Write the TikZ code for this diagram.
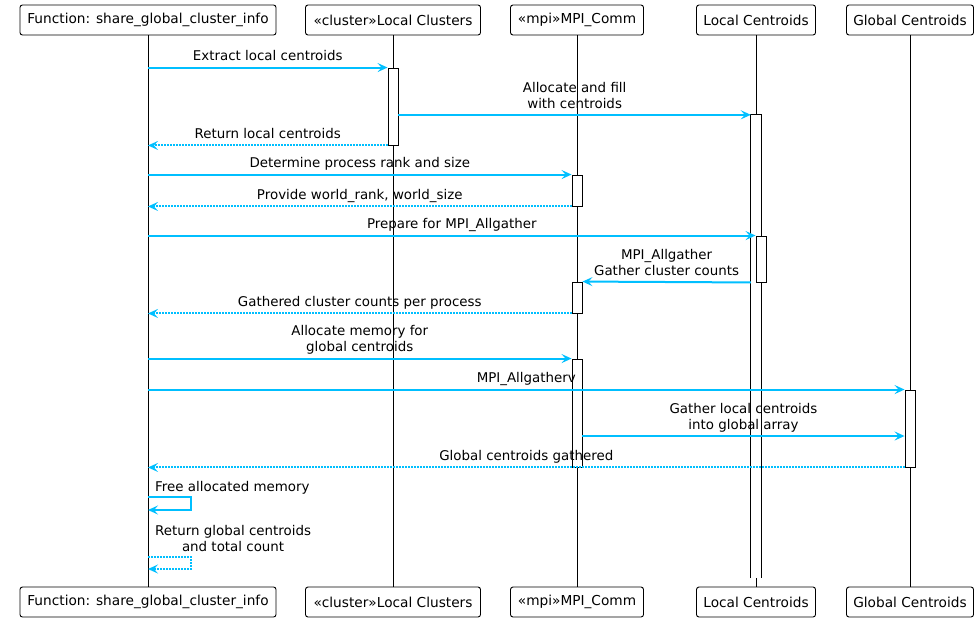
\documentclass[tikz,border=0pt]{standalone}
\usepackage{fontspec}
\setmainfont{DejaVu Sans}
\usetikzlibrary{arrows.meta}
\definecolor{msgc}{HTML}{00BFFF}
\begin{document}
\begin{tikzpicture}[x=1pt,y=-1pt,
  part/.style={draw, rounded corners=2.5pt, line width=0.9pt, minimum height=30pt, inner sep=0pt, font=\fontsize{13.7}{16}\selectfont},
  act/.style={draw, fill=white, line width=0.9pt, minimum width=10pt, inner sep=0pt},
  openact/.style={fill=white, minimum width=10pt, inner sep=0pt},
  life/.style={line width=0.9pt},
  msg/.style={draw=msgc, line width=2pt, -{Stealth[length=10pt,width=9pt,inset=4pt]}},
  ret/.style={msg, dash pattern=on 1.8pt off 1.2pt},
  lbl/.style={midway, anchor=south, inner sep=0pt, yshift=3pt, align=center, font=\fontsize{13.4}{16}\selectfont, execute at end node=\vphantom{g}},
  slbl/.style={anchor=south west, inner sep=0pt, align=center, font=\fontsize{13.4}{16}\selectfont, execute at end node=\vphantom{g}}]
\useasboundingbox (0,0) rectangle (979,622);
% participants
\node[part, minimum width=256pt] (Ft) at (148,20) {Function: share\_global\_cluster\_info};
\node[part, minimum width=175pt] (Ct) at (393,20) {«cluster»Local Clusters};
\node[part, minimum width=133pt] (Mt) at (577,20) {«mpi»MPI\_Comm};
\node[part, minimum width=119pt] (Lt) at (756,20) {Local Centroids};
\node[part, minimum width=127pt] (Gt) at (910,20) {Global Centroids};
\node[part, minimum width=256pt] (Fb) at (148,602) {Function: share\_global\_cluster\_info};
\node[part, minimum width=175pt] (Cb) at (393,602) {«cluster»Local Clusters};
\node[part, minimum width=133pt] (Mb) at (577,602) {«mpi»MPI\_Comm};
\node[part, minimum width=119pt] (Lb) at (756,602) {Local Centroids};
\node[part, minimum width=127pt] (Gb) at (910,602) {Global Centroids};
% lifelines
\draw[life] (Ft.south) -- (Fb.north);
\draw[life] (Ct.south) -- (Cb.north);
\draw[life] (Mt.south) -- (Mb.north);
\draw[life] (Lt.south) -- (Lb.north);
\draw[life] (Gt.south) -- (Gb.north);
% activations
\node[act, minimum height=77pt] (aC1) at (393,106.5) {};
\node[openact, minimum height=463pt] (aL1) at (756,346.5) {};
\draw[life] (aL1.south west) -- (aL1.north west) -- (aL1.north east) -- (aL1.south east);
\node[act, minimum height=31pt] (aM1) at (577,190.5) {};
\node[act, minimum height=46pt] (aL2) at (761,259) {};
\node[act, minimum height=31pt] (aM2) at (577,297.5) {};
\node[act, minimum height=108pt] (aM3) at (577,413) {};
\node[act, minimum height=77pt] (aG1) at (910,428.5) {};
\coordinate (y11) at (0,436);
% messages
\draw[msg] (Ft |- aC1.north west) -- node[lbl]{Extract local centroids} (aC1.north west);
\draw[msg] (aC1.east |- aL1.north) -- node[lbl]{Allocate and fill\\with centroids} (aL1.north west);
\draw[ret] (aC1.south west) -- node[lbl]{Return local centroids} (Ft |- aC1.south west);
\draw[msg] (Ft |- aM1.north west) -- node[lbl]{Determine process rank and size} (aM1.north west);
\draw[ret] (aM1.south west) -- node[lbl]{Provide world\_rank, world\_size} (Ft |- aM1.south west);
\draw[msg] (Ft |- aL2.north west) -- node[lbl]{Prepare for MPI\_Allgather} (aL2.north west);
\draw[msg] (aL1.west |- aL2.south) -- node[lbl]{MPI\_Allgather\\Gather cluster counts} (aM2.north east);
\draw[ret] (aM2.south west) -- node[lbl]{Gathered cluster counts per process} (Ft |- aM2.south west);
\draw[msg] (Ft |- aM3.north west) -- node[lbl]{Allocate memory for\\global centroids} (aM3.north west);
\draw[msg] (Ft |- aG1.north west) -- node[lbl]{MPI\_Allgatherv} (aG1.north west);
\draw[msg] (aM3.east |- y11) -- node[lbl]{Gather local centroids\\into global array} (aG1.west |- y11);
\draw[ret] (aG1.south west) -- node[lbl]{Global centroids gathered} (Ft |- aG1.south west);
\coordinate (s1) at (148,497);
\coordinate (s2) at (148,557);
\draw[msg] (s1) -- ++(43,0) -- ++(0,13) -- ++(-43,0);
\node[slbl] (l13) at (155,494) {Free allocated memory};
\draw[ret] (s2) -- ++(43,0) -- ++(0,12) -- ++(-43,0);
\node[slbl] (l14) at (155,554) {Return global centroids\\and total count};
\end{tikzpicture}
\end{document}
